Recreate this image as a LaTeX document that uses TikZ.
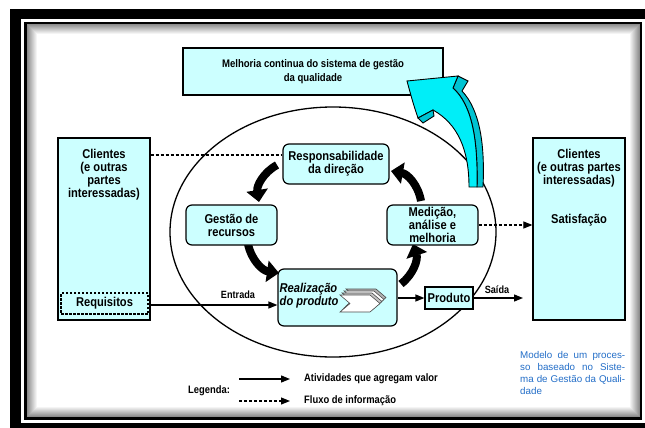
\documentclass[tikz,border=0pt]{standalone}
\usepackage{fontspec}
\setmainfont{Liberation Sans}
\newfontfamily\nar{Liberation Sans}[FakeStretch=0.87]
\usetikzlibrary{arrows.meta,shapes.geometric}
\definecolor{boxc}{RGB}{204,255,255}
\definecolor{cyanA}{RGB}{0,238,248}
\definecolor{cyanB}{RGB}{0,195,210}
\definecolor{blueT}{RGB}{35,110,200}
\begin{document}
\begin{tikzpicture}[x=1pt,y=-1pt,
  box/.style={draw=black,line width=1.2pt,fill=boxc,inner sep=0pt},
  rbox/.style={box,rounded corners=6pt},
  lbl/.style={font=\nar\bfseries\fontsize{12.8}{13}\selectfont,align=center,inner sep=0pt},
  sml/.style={font=\nar\bfseries\fontsize{10.5}{12}\selectfont,inner sep=0pt},
  leg/.style={font=\nar\bfseries\fontsize{10.8}{12}\selectfont,inner sep=0pt,anchor=west},
  flow/.style={line width=1.3pt,-{Triangle[length=9pt,width=7pt]}},
  info/.style={line width=1.1pt,dash pattern=on 3pt off 2pt},
  big/.style={line width=8pt,-{Triangle[length=12pt,width=21pt]}},
  chev/.style={draw=black!70,line width=0.6pt},
]
\useasboundingbox (0,0) rectangle (645,428);
\clip (0,0) rectangle (645,428);
\fill[white] (0,0) rectangle (645,428);
% frame
\fill[black] (10,9) rectangle (700,500);
\fill[white] (21,19) rectangle (700,423);
\draw[line width=2.5pt] (25.25,23.25) rectangle (641,418.5);
\foreach \i in {0,...,9}{
  \pgfmathsetmacro\op{0.45*(10-\i)/10}
  \draw[line width=1pt,draw opacity=\op] (27+\i,25+\i) rectangle (639.25-\i,416.75-\i);
}
% ellipse
\node[draw,ellipse,minimum width=326pt,minimum height=250pt,line width=1.3pt,inner sep=0pt] (ell) at (333,232) {};
% top box
\node[box,minimum width=260pt,minimum height=47pt,align=center,font=\nar\bfseries\fontsize{11}{14}\selectfont] (top) at (313,71.5) {Melhoria continua do sistema de gestão\\da qualidade};
% cyan arrow
\filldraw[fill=cyanB,draw=black,line width=0.9pt] (458,76) -- (468,81) -- (462,91) .. controls (480,110) and (485,145) .. (483,187) -- (477,187) .. controls (478,140) and (472,105) .. (453,88) -- cycle;
\filldraw[fill=cyanA,draw=black,line width=0.9pt] (407,81) -- (458,76) -- (453,88) .. controls (472,105) and (478,140) .. (477,187) -- (469,187) .. controls (469,150) and (458,124) .. (433,110) -- (418,118) .. controls (413,103) .. (407,81) -- cycle;
\filldraw[fill=cyanB,draw=black,line width=0.9pt] (418,118) -- (423,123) -- (434,116) -- (433,110) -- cycle;
% big cycle arrows
\coordinate (a1s) at (277,165); \coordinate (a1e) at (259,202);
\coordinate (a2s) at (248,244); \coordinate (a2e) at (279,273);
\coordinate (a3s) at (401,284); \coordinate (a3e) at (413,244);
\coordinate (a4s) at (421,201); \coordinate (a4e) at (391,171);
\draw[big] (a1s) to[bend right=35] (a1e);
\draw[big] (a2s) to[bend right=35] (a2e);
\draw[big] (a3s) to[bend right=35] (a3e);
\draw[big] (a4s) to[bend right=35] (a4e);
% side boxes
\node[box,minimum width=92pt,minimum height=182pt] (left) at (104,229) {};
\node[lbl] (lefttxt) at (104,175) {Clientes\\(e outras\\partes\\interessadas)};
\node[draw=black,line width=1.1pt,dash pattern=on 2.5pt off 1.5pt,minimum width=87pt,minimum height=21pt,inner sep=0pt,lbl] (req) at (104.5,303.5) {Requisitos};
\node[box,minimum width=92pt,minimum height=182pt] (right) at (579,229) {};
\node[lbl] (righttxt) at (579,168.5) {Clientes\\(e outras partes\\interessadas)};
\node[lbl] (sat) at (579,220) {Satisfação};
% process boxes
\node[rbox,lbl,minimum width=106pt,minimum height=40pt] (resp) at (336,164) {Responsabilidade\\da direção};
\node[rbox,lbl,minimum width=91pt,minimum height=40pt] (gest) at (231.5,225) {Gestão de\\recursos};
\node[rbox,lbl,minimum width=91pt,minimum height=40pt] (med) at (432.5,225) {Medição,\\análise e\\melhoria};
\node[rbox,minimum width=119pt,minimum height=57pt] (real) at (337.5,297.5) {};
\node[font=\nar\bfseries\itshape\fontsize{12.8}{13}\selectfont,align=left,inner sep=0pt,anchor=west] (realtxt) at (279.5,295.5) {Realização\\do produto};
\foreach \dx/\dy/\c in {6/-6/gray!60, 4/-4/white, 2/-2/gray!45, 0/0/white}{
  \filldraw[chev,fill=\c] (340+\dx,295+\dy) -- (370+\dx,295+\dy) -- (380+\dx,303.5+\dy) -- (370+\dx,312+\dy) -- (340+\dx,312+\dy) -- (350+\dx,303.5+\dy) -- cycle;
}
\node[box,lbl,minimum width=48pt,minimum height=22pt] (prod) at (449,298) {Produto};
% connectors
\coordinate (yd) at (0,155);
\draw[info] (left.east |- yd) -- (resp.west |- yd);
\draw[info,-{Triangle[length=9pt,width=7pt]}] (med.east) -- (right.west |- med.east);
\coordinate (yin) at (0,305);
\draw[flow] (left.east |- yin) -- (real.west |- yin);
\draw[flow] (real.east |- prod.west) -- (prod.west);
\coordinate (outE) at (523,298);
\draw[flow] (prod.east) -- (outE);
\node[sml] (lin) at (238,295) {Entrada};
\node[sml] (lout) at (497,290) {Saída};
% legend
\node[leg] (legt) at (188,391) {Legenda:};
\coordinate (l1a) at (239,379); \coordinate (l1b) at (290,379);
\coordinate (l2a) at (239,401); \coordinate (l2b) at (290,401);
\draw[flow] (l1a) -- (l1b);
\draw[info,-{Triangle[length=9pt,width=7pt]}] (l2a) -- (l2b);
\node[leg] (leg1) at (304,379) {Atividades que agregam valor};
\node[leg] (leg2) at (304,401) {Fluxo de informação};
% note
\node[anchor=north west,inner sep=0pt,text width=105pt,align=justify,text=blueT,font=\fontsize{9.8}{12}\selectfont] (note) at (520,351.5) {Modelo de um proces-\linebreak so baseado no Siste-\linebreak ma de Gestão da Quali-\linebreak dade};
\end{tikzpicture}
\end{document}
